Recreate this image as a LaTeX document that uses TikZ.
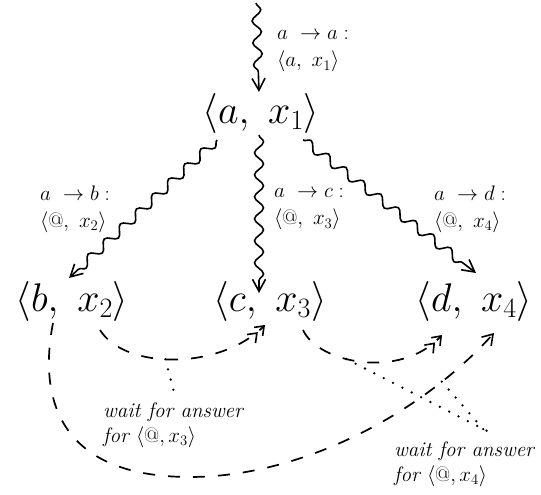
\RequirePackage{fix-cm}
\documentclass[tikz,border=0pt]{standalone}
\usetikzlibrary{decorations.pathmorphing,arrows.meta,calc}
\begin{document}
\begin{tikzpicture}[x=1pt,y=1pt,
  big/.style={inner sep=0pt, font=\fontsize{40}{44}\selectfont, anchor=base},
  lab/.style={inner sep=0pt, font=\fontsize{21}{27}\selectfont, align=left, anchor=west},
  note/.style={inner sep=0pt, font=\fontsize{21}{25}\selectfont\itshape, align=left, anchor=west},
  wavy/.style={line width=1.6pt, decorate,
    decoration={snake, segment length=22pt, amplitude=4.5pt, post length=10pt},
    -{Straight Barb[length=12pt,width=13pt,line width=1.6pt]}},
  dsh/.style={line width=1.7pt, dash pattern=on 12pt off 13pt},
  dbl/.style={-{Straight Barb[length=8pt,width=12pt,line width=1.6pt] Straight Barb[length=8pt,width=12pt,line width=1.6pt]}},
  sgl/.style={-{Straight Barb[length=10pt,width=13pt,line width=1.6pt]}},
  dots/.style={line width=2.6pt, line cap=round, dash pattern=on 0pt off 10.5pt}
]
\useasboundingbox (0,0) rectangle (541,495);

% main nodes
\node[big] (A) at (261,371) {$\langle a,\ x_1\rangle$};
\node[big] (B) at (72,183) {$\langle b,\ x_2\rangle$};
\node[big] (C) at (270,183) {$\langle c,\ x_3\rangle$};
\node[big] (D) at (474,183) {$\langle d,\ x_4\rangle$};

% labels
\node[lab] (lA) at (277,443.5) {$a\ \to a:$\\$\langle a,\ x_1\rangle$};
\node[lab] (lB) at (40,285.5) {$a\ \to b:$\\$\langle @,\ x_2\rangle$};
\node[lab] (lC) at (274,285.5) {$a\ \to c:$\\$\langle @,\ x_3\rangle$};
\node[lab] (lD) at (434,285.5) {$a\ \to d:$\\$\langle @,\ x_4\rangle$};

\node[note] (n1) at (103,69.5) {wait for answer\\for $\langle @, x_3\rangle$};
\node[note] (n2) at (394,30.5) {wait for answer\\for $\langle @, x_4\rangle$};

% wavy messages
\coordinate (entry) at (256,492);
\draw[wavy] (entry) -- ($(A.base)+(-2,32)$);
\draw[wavy] ($(A.base)+(-44,-16)$) -- ($(B.base)+(-3,34)$);
\draw[wavy] ($(A.base)+(-2,-11)$) -- ($(C.base)+(-11,19)$);
\draw[wavy] ($(A.base)+(42,-16)$) -- ($(D.base)+(2,39)$);

% dashed answers
\draw[dsh,dbl] ($(B.base)+(28,-18)$) .. controls (125,125) and (220,125) .. ($(C.base)+(-5,-13)$)
  coordinate[pos=0.45] (w1);
\draw[dsh,dbl] ($(C.base)+(33,-18)$) .. controls (318,132) and (400,115) .. ($(D.base)+(-32,-23)$)
  coordinate[pos=0.4] (w2);
\draw[dsh,sgl] ($(B.base)+(-19,-11)$) .. controls (38,95) and (60,18) .. (190,18)
  .. controls (300,18) and (420,80) .. ($(D.base)+(20,-21)$) coordinate[pos=0.79] (w3);

% dotted waits
\coordinate (e1) at (174,103);
\coordinate (e2) at (491,62);
\coordinate (e3) at (484,65);
\draw[dots] (w1) -- (e1);
\draw[dots] (w2) -- (e2);
\draw[dots] (w3) -- (e3);
\end{tikzpicture}
\end{document}
